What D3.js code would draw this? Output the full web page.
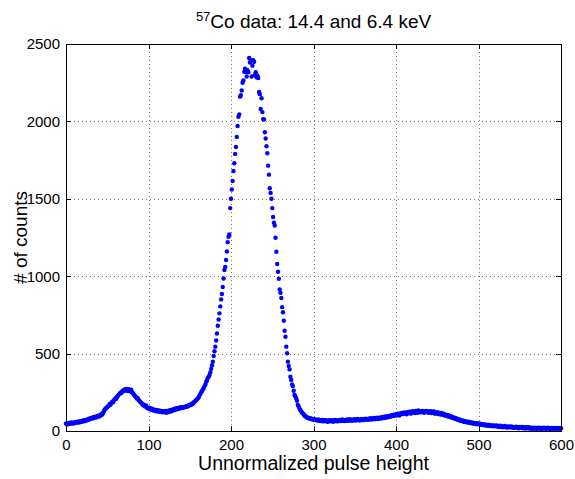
<!DOCTYPE html>
<meta charset="utf-8">
<title>57Co spectrum</title>
<style>

body {
  margin: 0;
  background: #fff;
  font-family: "Liberation Sans", Arial, sans-serif;
}

.axis path,
.axis line {
  fill: none;
  stroke: #000;
  shape-rendering: crispEdges;
}

.grid line {
  stroke: #777;
  stroke-dasharray: 1,3;
  shape-rendering: crispEdges;
}

.dot {
  fill: #0000ff;
}

</style>
<body>
<svg id="chart"></svg>

<script src="https://d3js.org/d3.v7.min.js"></script>
<script>

// counts per channel (channel = first channel + index)
var counts0to99 = [
  48, 42, 50, 45, 52, 47, 55, 50, 53, 48, 56, 52, 58, 54, 60, 55, 62, 57, 64, 60,
  66, 62, 70, 65, 72, 68, 75, 72, 80, 76, 84, 80, 86, 82, 90, 85, 92, 88, 96, 93,
  100, 95, 104, 110, 106, 118, 128, 140, 144, 150, 155, 160, 165, 175, 170, 182, 190, 186, 198, 205,
  212, 208, 222, 228, 235, 240, 248, 245, 255, 262, 258, 268, 262, 272, 265, 258, 270, 262, 255, 266,
  250, 245, 238, 230, 225, 218, 210, 212, 200, 196, 188, 182, 178, 170, 172, 162, 158, 165, 150, 148
];

var counts100to199 = [
  144, 150, 140, 146, 136, 142, 132, 138, 134, 128, 136, 130, 126, 132, 124, 130, 122, 128, 120, 126,
  124, 130, 118, 128, 122, 132, 126, 136, 128, 138, 134, 142, 136, 145, 140, 148, 142, 150, 146, 154,
  148, 152, 150, 156, 154, 158, 156, 162, 160, 168, 166, 172, 170, 178, 176, 186, 190, 196, 200, 206,
  212, 220, 232, 240, 252, 258, 270, 278, 290, 300, 318, 330, 345, 350, 362, 380, 402, 425, 448, 485,
  515, 545, 585, 630, 680, 720, 760, 805, 850, 885, 930, 985, 1040, 1060, 1105, 1160, 1220, 1255, 1270, 1440
];

var counts200to299 = [
  1500, 1560, 1615, 1680, 1730, 1790, 1835, 1900, 1970, 2030, 2045, 2160, 2170, 2200, 2250, 2265, 2320, 2340, 2318, 2290,
  2330, 2318, 2410, 2380, 2395, 2290, 2360, 2395, 2385, 2300, 2318, 2285, 2296, 2280, 2190, 2176, 2080, 2150, 2060, 2015,
  2012, 1930, 1890, 1840, 1794, 1714, 1656, 1568, 1538, 1500, 1440, 1382, 1346, 1328, 1248, 1158, 1079, 1029, 984, 915,
  893, 859, 800, 767, 712, 648, 609, 545, 502, 448, 420, 398, 351, 330, 300, 291, 260, 233, 225, 211,
  195, 168, 160, 145, 136, 128, 120, 114, 108, 100, 96, 92, 88, 86, 84, 80, 82, 78, 80, 74
];

var counts300to399 = [
  76, 72, 74, 70, 72, 68, 74, 66, 70, 64, 68, 72, 62, 66, 70, 64, 68, 60, 66, 70,
  62, 68, 64, 70, 60, 66, 72, 64, 68, 62, 70, 66, 72, 64, 68, 74, 66, 70, 64, 72,
  68, 74, 66, 70, 76, 68, 72, 66, 74, 70, 76, 68, 72, 78, 70, 74, 68, 76, 72, 78,
  70, 76, 72, 80, 74, 78, 72, 80, 76, 82, 74, 80, 78, 84, 76, 82, 80, 86, 78, 84,
  82, 88, 80, 86, 90, 84, 92, 86, 94, 88, 96, 90, 98, 92, 100, 96, 104, 98, 106, 100
];

var counts400to499 = [
  108, 102, 112, 106, 100, 114, 108, 116, 110, 118, 112, 120, 114, 108, 122, 116, 124, 118, 112, 126,
  120, 128, 122, 116, 130, 124, 118, 132, 126, 120, 128, 122, 130, 124, 118, 128, 122, 130, 124, 118,
  126, 120, 128, 116, 124, 118, 126, 112, 120, 114, 122, 110, 118, 112, 106, 116, 110, 104, 112, 100,
  106, 98, 104, 94, 100, 92, 96, 88, 92, 84, 88, 80, 84, 76, 80, 74, 70, 74, 66, 70,
  64, 68, 60, 64, 58, 62, 56, 60, 54, 58, 52, 56, 50, 54, 48, 52, 46, 50, 44, 48
];

var counts500to600 = [
  45, 48, 42, 46, 40, 44, 38, 42, 36, 40, 38, 34, 40, 36, 32, 38, 34, 30, 36, 32,
  34, 30, 36, 28, 32, 26, 34, 28, 32, 24, 30, 26, 32, 24, 28, 22, 30, 26, 24, 30,
  22, 28, 24, 20, 26, 22, 28, 20, 24, 18, 26, 22, 20, 26, 18, 24, 20, 16, 24, 20,
  18, 24, 16, 22, 18, 14, 22, 18, 16, 22, 14, 20, 16, 22, 14, 18, 20, 14, 18, 22,
  16, 20, 14, 18, 22, 16, 18, 14, 20, 16, 18, 14, 20, 16, 18, 14, 20, 16, 18, 15, 18
];

var firstChannel = 0;
var xTicks = [0, 100, 200, 300, 400, 500, 600];
var yTicks = [0, 500, 1000, 1500, 2000, 2500];

var counts = [].concat(counts0to99, counts100to199, counts200to299,
                       counts300to399, counts400to499, counts500to600);
var data = counts.map(function(c, i) { return {channel: firstChannel + i, count: c}; });

var margin = {top: 44, right: 14, bottom: 48, left: 66},
    width = 575 - margin.left - margin.right,
    height = 479 - margin.top - margin.bottom;

var x = d3.scaleLinear().domain([0, 600]).range([0, width]);
var y = d3.scaleLinear().domain([0, 2500]).range([height, 0]);

var root = d3.select("#chart")
    .attr("width", 575)
    .attr("height", 479);

var svg = root.append("g")
    .attr("transform", "translate(" + margin.left + "," + margin.top + ")");

// dotted grid
svg.append("g")
    .attr("class", "grid")
  .selectAll("line")
    .data(xTicks.slice(1, -1))
  .enter().append("line")
    .attr("x1", function(d) { return Math.round(x(d)) + 0.5; })
    .attr("x2", function(d) { return Math.round(x(d)) + 0.5; })
    .attr("y1", 0)
    .attr("y2", height);

svg.append("g")
    .attr("class", "grid")
  .selectAll("line")
    .data(yTicks.slice(1, -1))
  .enter().append("line")
    .attr("y1", function(d) { return Math.round(y(d)) + 0.5; })
    .attr("y2", function(d) { return Math.round(y(d)) + 0.5; })
    .attr("x1", 0)
    .attr("x2", width);

svg.selectAll(".dot")
    .data(data)
  .enter().append("circle")
    .attr("class", "dot")
    .attr("r", 2.2)
    .attr("cx", function(d) { return x(d.channel); })
    .attr("cy", function(d) { return y(d.count); });

// matlab style box with inward ticks
var fmt = d3.format("d");
var xAxis = d3.axisBottom(x).tickValues(xTicks).tickFormat(fmt).tickSizeInner(-5).tickSizeOuter(0).tickPadding(8);
var yAxis = d3.axisLeft(y).tickValues(yTicks).tickFormat(fmt).tickSizeInner(-5).tickSizeOuter(0).tickPadding(6);

function styleText(g) {
  g.selectAll("text")
    .style("font-size", "15px")
    .style("font-family", "Liberation Sans, Arial, sans-serif")
    .attr("fill", "#000");
}

svg.append("g")
    .attr("class", "x axis")
    .attr("transform", "translate(0," + height + ")")
    .call(xAxis)
    .call(styleText);

svg.append("g")
    .attr("class", "y axis")
    .call(yAxis)
    .call(styleText);

svg.append("g")
    .attr("class", "axis")
    .call(d3.axisTop(x).tickValues(xTicks).tickSizeInner(-5).tickSizeOuter(0).tickFormat(""));

svg.append("g")
    .attr("class", "axis")
    .attr("transform", "translate(" + width + ",0)")
    .call(d3.axisRight(y).tickValues(yTicks).tickSizeInner(-5).tickSizeOuter(0).tickFormat(""));

svg.append("rect")
    .attr("width", width)
    .attr("height", height)
    .attr("fill", "none")
    .attr("stroke", "#000")
    .attr("shape-rendering", "crispEdges");

// labels
var title = root.append("text")
    .attr("x", margin.left + width / 2)
    .attr("y", 28)
    .attr("text-anchor", "middle")
    .style("font-size", "19px");
title.append("tspan")
    .attr("dy", "-7")
    .style("font-size", "13px")
    .text("57");
title.append("tspan")
    .attr("dy", "7")
    .text("Co data: 14.4 and 6.4 keV");

root.append("text")
    .attr("x", margin.left + width / 2)
    .attr("y", 470)
    .attr("text-anchor", "middle")
    .style("font-size", "19.5px")
    .text("Unnormalized pulse height");

root.append("text")
    .attr("transform", "translate(27," + (margin.top + height / 2) + ") rotate(-90)")
    .attr("text-anchor", "middle")
    .style("font-size", "19px")
    .text("# of counts");

</script>
</body>
